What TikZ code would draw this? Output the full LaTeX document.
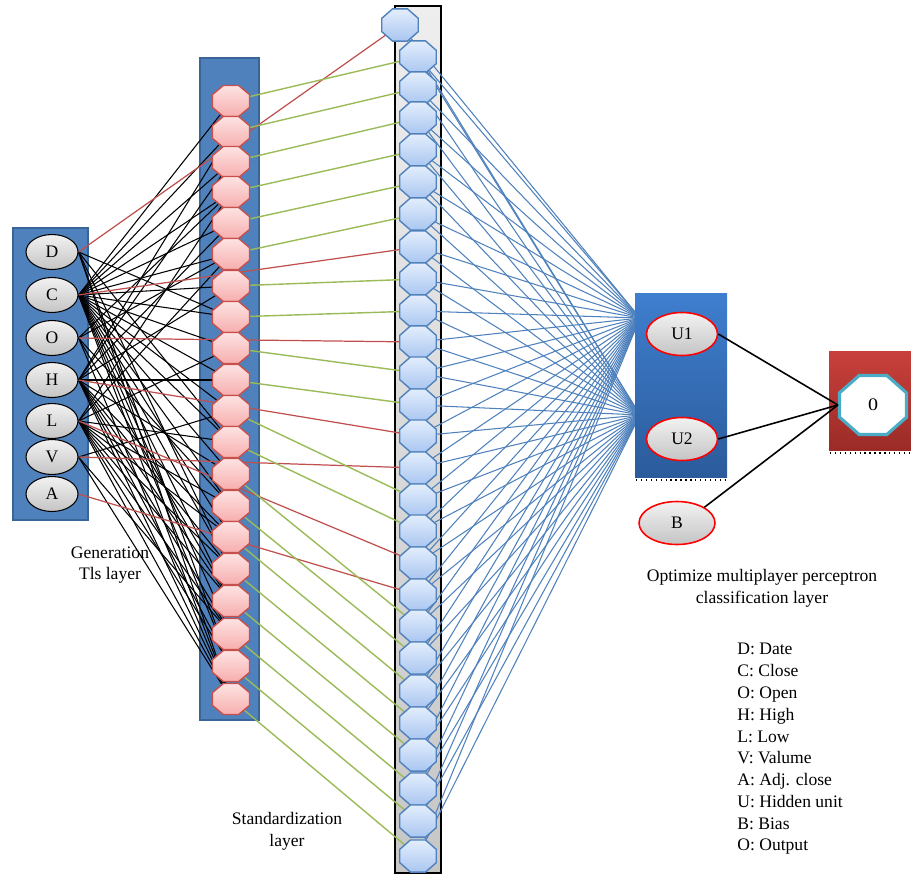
\documentclass[tikz,border=0pt]{standalone}
\usepackage{fontspec}
\setmainfont{Liberation Serif}
\usetikzlibrary{shapes.geometric}

\definecolor{panelblue}{HTML}{4F81BD}
\definecolor{paneledge}{HTML}{3A6598}
\definecolor{utop}{HTML}{3F7FCF}
\definecolor{ubot}{HTML}{2B5B9B}
\definecolor{otop}{HTML}{C9403B}
\definecolor{obot}{HTML}{9B2B27}
\definecolor{pinktop}{HTML}{FDE3E3}
\definecolor{pinkbot}{HTML}{F7AEAE}
\definecolor{pinkedge}{HTML}{C8504C}
\definecolor{coltop}{HTML}{E3EEFC}
\definecolor{colbot}{HTML}{AAC6F1}
\definecolor{coledge}{HTML}{4F81BD}
\definecolor{greytop}{HTML}{F2F2F2}
\definecolor{greybot}{HTML}{C4C4C4}
\definecolor{stripetop}{HTML}{EEEEEE}
\definecolor{stripebot}{HTML}{C6C6C6}
\definecolor{wirered}{HTML}{C0504D}
\definecolor{wiregreen}{HTML}{9BBB59}
\definecolor{wireblue}{HTML}{4F81BD}
\definecolor{outedge}{HTML}{4BACC6}

\pgfdeclarelayer{back}
\pgfdeclarelayer{wires}
\pgfsetlayers{back,wires,main}

\tikzset{
  panel/.style={fill=panelblue, draw=paneledge, line width=1.6pt},
  inputnode/.style={ellipse, draw=black, line width=0.6pt, top color=greytop,
    bottom color=greybot, minimum width=1.04cm, minimum height=0.7cm, inner sep=0pt},
  octa/.style={regular polygon, regular polygon sides=8, inner sep=0pt, transform shape},
  stdnode/.style={octa, minimum size=0.8cm, yscale=0.84,
    draw=pinkedge, line width=0.8pt, top color=pinktop, bottom color=pinkbot},
  colnode/.style={octa, minimum size=0.79cm, yscale=0.88,
    draw=coledge, line width=0.8pt, top color=coltop, bottom color=colbot},
  hiddennode/.style={ellipse, draw=red, line width=0.9pt, top color=greytop,
    bottom color=greybot, minimum width=1.42cm, minimum height=0.86cm, inner sep=0pt},
  outnode/.style={octa, minimum size=1.45cm, yscale=0.88,
    draw=outedge, line width=1.8pt, fill=white, font=\fontsize{11.4}{13}\selectfont},
  wireblack/.style={draw=black, line width=0.6pt},
  wirer/.style={draw=wirered, line width=0.7pt},
  wireg/.style={draw=wiregreen, line width=0.8pt},
  wireb/.style={draw=wireblue, line width=0.6pt},
  outwire/.style={draw=black, line width=0.9pt},
  caption/.style={align=center, inner sep=0pt},
}

\begin{document}
\begin{tikzpicture}[x=0.02cm, y=-0.02cm, font=\fontsize{10}{12.4}\selectfont]
\useasboundingbox (0,0) rectangle (911,875);

% panels behind everything
\begin{pgfonlayer}{back}
  \path[panel] (13,228) rectangle (88,520);
  \path[panel] (200,58) rectangle (259,720);
  \draw[line width=1.2pt, top color=stripetop, bottom color=stripebot] (395,6) rectangle (441,873);
\end{pgfonlayer}

% hidden-unit and output panels
\path[top color=utop, bottom color=ubot] (635,293) rectangle (727,477);
\draw[dotted, line width=0.8pt] (636,480) -- (727,480);
\path[top color=otop, bottom color=obot] (829,351) rectangle (911,450);
\draw[dotted, line width=0.8pt] (830,453) -- (911,453);

% input layer
\foreach \n/\y in {D/252, C/295, O/338, H/380, L/421, V/457, A/494}
  \node[inputnode] (n\n) at (52,\y) {\n};

% standardization nodes
\foreach \y [count=\i] in {101,132,162,192,223,254,286,317,348,380,411,442,474,506,537,569,601,634,666,699}
  \node[stdnode] (p\i) at (231,\y) {};

% third column
\node[colnode] (ctop) at (400,25) {};
\foreach \y [count=\i] in {57,88,118,150,182,214,247,279,311,342,373,405,436,468,500,531,563,595,626,658,691,723,755,789,821,856}
  \node[colnode] (c\i) at (418,\y) {};

% hidden units, bias, output
\node[hiddennode] (u1) at (682,334) {U1};
\node[hiddennode] (u2) at (682,439) {U2};
\node[hiddennode, minimum width=1.52cm] (b) at (677,523) {B};
\node[outnode] (out) at (873,405) {0};
\coordinate (hub1) at (640,318);
\coordinate (hub2) at (640,415);

\begin{pgfonlayer}{wires}
  % inputs to standardization nodes
  \foreach \s/\t in {D/8, D/12, D/16, D/19, D/20,
      C/1, C/2, C/3, C/4, C/5, C/6, C/7, C/8, C/9, C/10, C/11, C/12, C/13, C/14, C/15, C/16, C/17, C/18, C/19, C/20,
      O/4, O/6, O/14, O/17, O/20,
      H/2, H/3, H/5, H/7, H/10, H/13, H/15, H/16, H/17, H/18, H/19, H/20,
      L/4, L/6, L/9, L/12, L/14, L/15, L/16, L/17, L/18, L/19, L/20,
      V/11, V/18, V/20}
    \draw[wireblack] (n\s.east) -- (p\t);
  % inputs passed straight to the third column
  \foreach \s/\t in {D/top, C/7, O/10, H/13, V/14, L/17, A/18}
    \draw[wirer] (n\s.east) -- (c\t);
  % standardization to third column
  \foreach \s/\t in {1/1, 2/2, 3/3, 4/4, 5/5, 6/6, 7/8, 8/9, 9/11, 10/12, 11/15, 12/16,
      13/19, 14/20, 15/21, 16/22, 17/23, 18/24, 19/25, 20/26}
    \draw[wireg] (p\s) -- (c\t);
  % third column to hidden units
  \foreach \t in {top,1,2,3,4,5,6,7,8,9,10,11,12,13,14,15,16,17,18,19,20,21,22,23,24,25,26} {
    \draw[wireb] (c\t) -- (hub1);
    \draw[wireb] (c\t) -- (hub2);
  }
\end{pgfonlayer}

% hidden units and bias to output
\draw[outwire] (u1.east) -- (out.west);
\draw[outwire] (u2.east) -- (out.west);
\draw[outwire] (b.north east) -- (out.west);

% captions
\node[caption] (gen) at (110,565) {Generation\\Tls layer};
\node[caption] (std) at (287,831) {Standardization\\layer};
\node[caption] (opt) at (762,588) {Optimize multiplayer perceptron\\classification layer};
\node[align=left, anchor=north west, inner sep=0pt] (legend) at (737,643)
  {D: Date\\C: Close\\O: Open\\H: High\\L: Low\\V: Valume\\A: Adj. close\\U: Hidden unit\\B: Bias\\O: Output};
\end{tikzpicture}
\end{document}
